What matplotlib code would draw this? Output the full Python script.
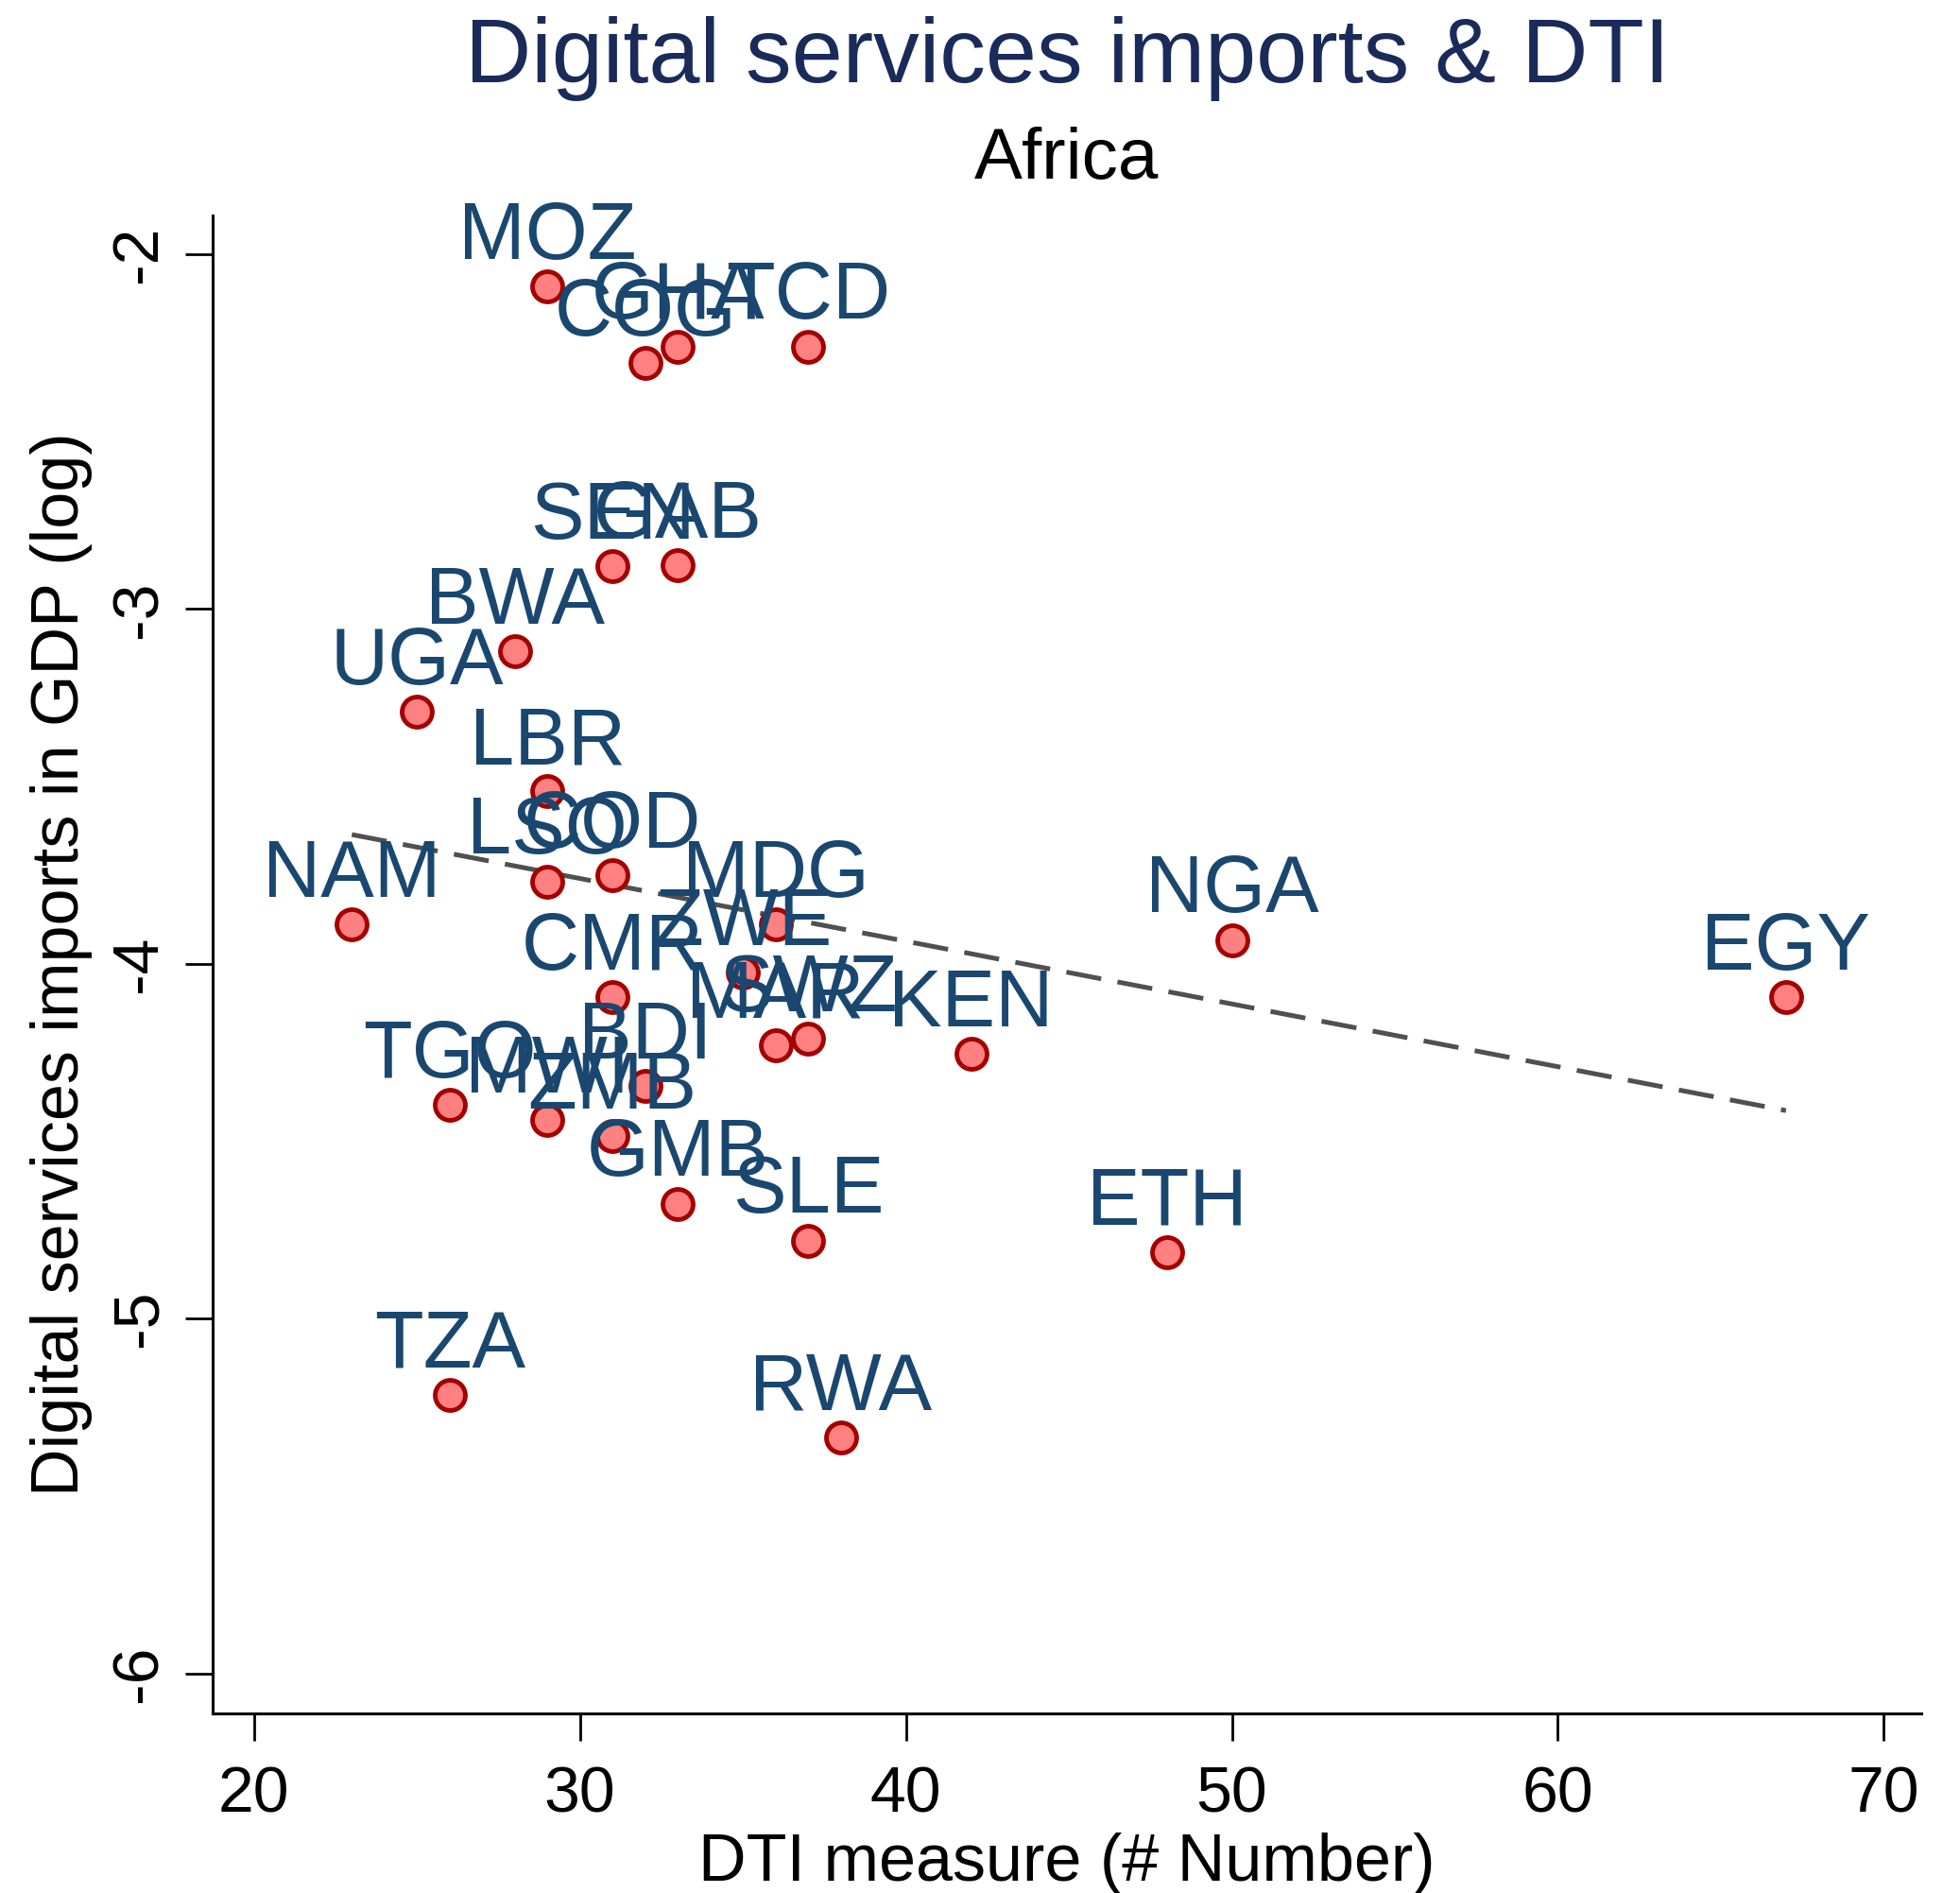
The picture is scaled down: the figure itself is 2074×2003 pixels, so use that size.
import matplotlib
matplotlib.use("Agg")
import matplotlib.pyplot as plt
import numpy as np

countries = ["MOZ", "GHA", "COG", "TCD", "SEN", "GAB", "BWA", "UGA", "LBR", "LSO",
             "COD", "NAM", "MDG", "ZWE", "CMR", "MAR", "SWZ", "KEN", "BDI", "TGO",
             "MWI", "ZMB", "GMB", "SLE", "ETH", "NGA", "EGY", "TZA", "RWA"]
dti = [29, 33, 32, 37, 31, 33, 28, 25, 29, 29,
       31, 23, 36, 35, 31, 36, 37, 42, 32, 26,
       29, 31, 33, 37, 48, 50, 67, 26, 38]
imports_log = [-2.09, -2.26, -2.306, -2.26, -2.88, -2.877, -3.12, -3.289, -3.514, -3.768,
               -3.75, -3.89, -3.89, -4.025, -4.095, -4.229, -4.211, -4.254, -4.345, -4.398,
               -4.44, -4.486, -4.676, -4.78, -4.813, -3.933, -4.095, -5.215, -5.335]
xticks = [20, 30, 40, 50, 60, 70]
yticks = [-2, -3, -4, -5, -6]

plt.rcParams['font.family'] = ['Liberation Sans', 'DejaVu Sans']

fig = plt.figure(figsize=(20.74, 20.03), dpi=100)
ax_left, ax_right, ax_top, ax_bottom = 225, 2033, 228, 1813
ax = fig.add_axes([ax_left/2074, 1 - ax_bottom/2003, (ax_right-ax_left)/2074, (ax_bottom-ax_top)/2003])

x = np.array(dti, dtype=float)
y = np.array(imports_log, dtype=float)
b, a = np.polyfit(x, y, 1)
xs = np.array([x.min(), x.max()])
ax.plot(xs, a + b*xs, color='#505050', lw=3.6, dashes=(7.5, 3.5), zorder=2)

ax.plot(x, y, 'o', ms=23, mfc='#ff8080', mec='#a50000', mew=3.5, zorder=3, linestyle='none')

for c, xi, yi in zip(countries, x, y):
    ax.annotate(c, (xi, yi), xytext=(0, 21), textcoords='offset points',
                ha='center', va='baseline', fontsize=61, color='#1a476f', zorder=4)

ax.set_xlim(18.73, 71.15)
ax.set_ylim(-6.113, -1.891)
ax.set_xticks(xticks)
ax.set_yticks(yticks)
ax.set_xticklabels([str(t) for t in xticks], fontsize=49)
ax.set_yticklabels([str(t) for t in yticks], fontsize=49, rotation=90, va='center')
ax.tick_params(axis='x', direction='out', length=21, width=2, pad=18)
ax.tick_params(axis='y', direction='out', length=21, width=2, pad=12)
for s in ['top', 'right']:
    ax.spines[s].set_visible(False)
for s in ['left', 'bottom']:
    ax.spines[s].set_linewidth(2.2)

ax.set_xlabel("DTI measure (# Number)", fontsize=50.5, labelpad=6)
ax.set_ylabel("Digital services imports in GDP (log)", fontsize=50.5, labelpad=12)

cx = (ax_left + ax_right) / 2 / 2074
fig.text(cx, 1 - 62/2003, "Digital services imports & DTI", ha='center', va='center',
         fontsize=70, color='#1a2b5a')
fig.text(cx, 1 - 170/2003, "Africa", ha='center', va='center', fontsize=55, color='black')

fig.savefig("out.png", dpi=100)
